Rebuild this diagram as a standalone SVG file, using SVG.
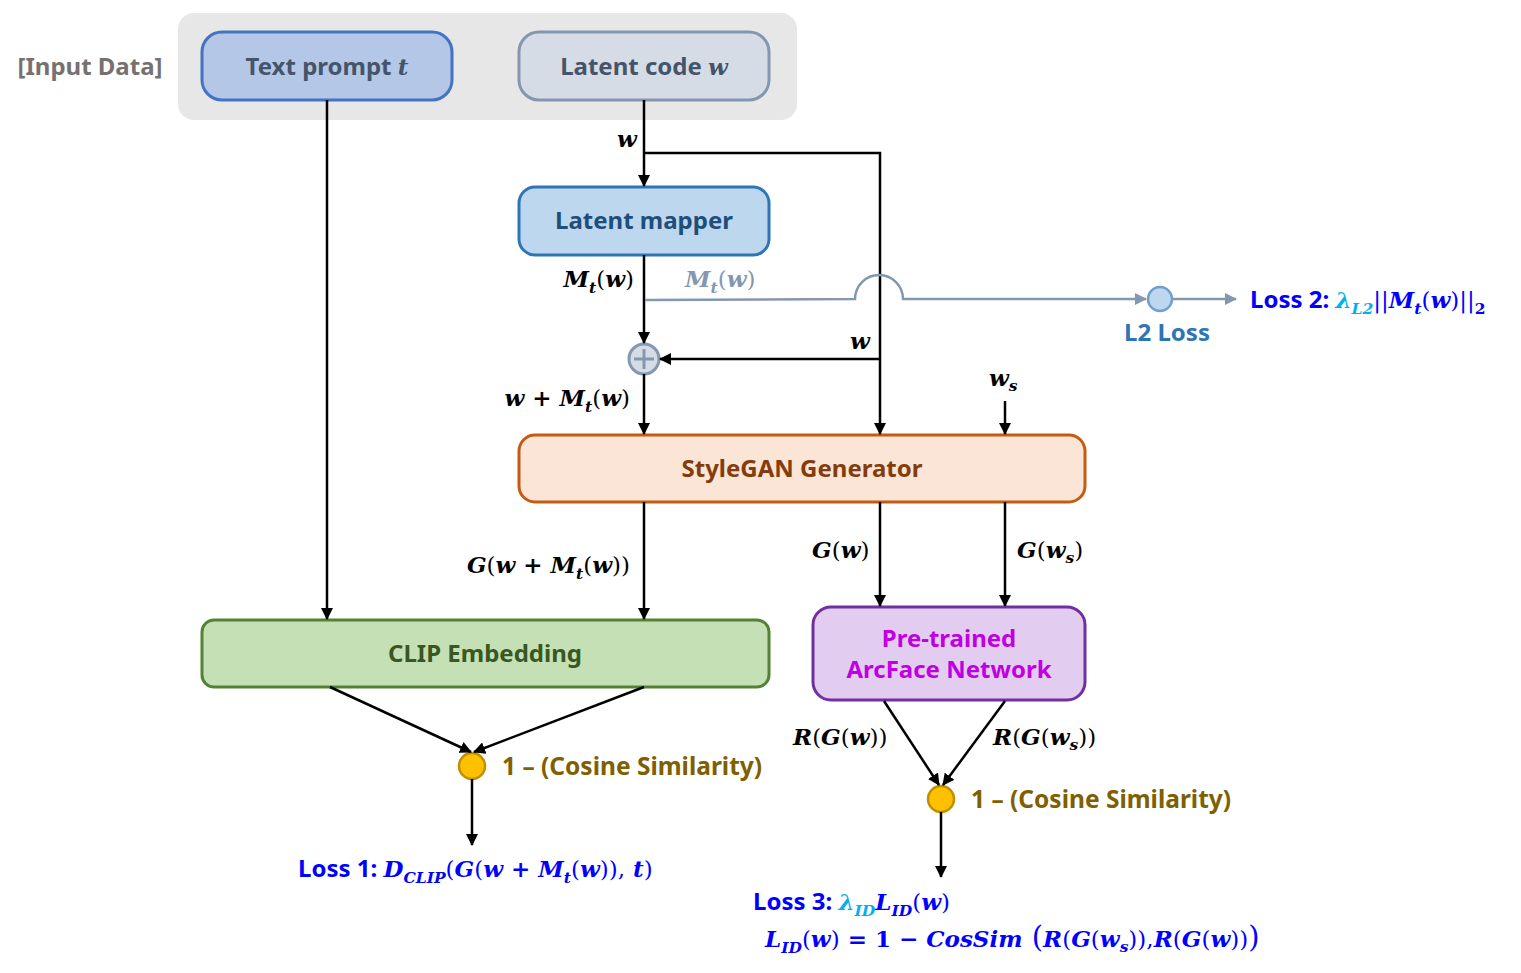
<svg xmlns="http://www.w3.org/2000/svg" width="1521" height="973" viewBox="0 0 1521 973">
<defs>
<marker id="ab" viewBox="0 0 12 12" refX="11" refY="6" markerWidth="12" markerHeight="12" markerUnits="userSpaceOnUse" orient="auto">
<path d="M0,0 L12,6 L0,12 Z" fill="#000"/>
</marker>
<marker id="ag" viewBox="0 0 12 12" refX="11" refY="6" markerWidth="12" markerHeight="12" markerUnits="userSpaceOnUse" orient="auto">
<path d="M0,0 L12,6 L0,12 Z" fill="#8497b0"/>
</marker>
</defs>
<style>
.t{font-family:"Noto Sans","Open Sans",sans-serif;font-weight:700}
.m{font-family:"DejaVu Serif","Liberation Serif",serif;font-style:italic;font-weight:700;font-size:23px}
.n{font-family:"DejaVu Serif","Liberation Serif",serif;font-style:normal;font-weight:400}
.b{font-family:"DejaVu Serif","Liberation Serif",serif;font-style:normal;font-weight:700}
.s{font-size:15.5px}
.c{stroke:#000;stroke-width:2.5;fill:none}
.box{stroke-width:3}
</style>
<rect width="1521" height="973" fill="#fff"/>

<g id="input-data">
<rect x="178" y="13" width="619" height="107" rx="16" fill="#e7e7e7"/>
<text class="t" x="90" y="75" font-size="24" fill="#767171" text-anchor="middle">[Input Data]</text>
</g>

<g id="text-prompt">
<rect class="box" x="202" y="32" width="250" height="68" rx="20" fill="#b4c7e7" stroke="#4472c4"/>
<text class="t" x="327" y="75" font-size="24" fill="#44546a" text-anchor="middle">Text prompt <tspan class="m" font-size="23">t</tspan></text>
</g>

<g id="latent-code">
<rect class="box" x="519" y="32" width="250" height="68" rx="20" fill="#d6dce5" stroke="#8497b0"/>
<text class="t" x="644" y="75" font-size="24" fill="#44546a" text-anchor="middle">Latent code <tspan class="m" font-size="23">w</tspan></text>
</g>

<g id="latent-mapper">
<rect class="box" x="519" y="187" width="250" height="68" rx="16" fill="#bdd7ee" stroke="#2e75b6"/>
<text class="t" x="644" y="229" font-size="24" fill="#1f4e79" text-anchor="middle">Latent mapper</text>
</g>

<g id="plus">
<circle cx="644" cy="359" r="15" fill="#d6dce5" stroke="#8497b0" stroke-width="3"/>
<path d="M634,359 H654 M644,349 V369" stroke="#8497b0" stroke-width="3"/>
</g>

<g id="l2-loss">
<circle cx="1160" cy="299" r="12" fill="#bdd7ee" stroke="#6f9fd0" stroke-width="2.5"/>
<text class="t" x="1167" y="341" font-size="24" fill="#2e75b6" text-anchor="middle">L2 Loss</text>
</g>

<g id="stylegan">
<rect class="box" x="519" y="435" width="566" height="67" rx="16" fill="#fbe5d6" stroke="#c55a11"/>
<text class="t" x="802" y="477" font-size="24" fill="#843c0c" text-anchor="middle">StyleGAN Generator</text>
</g>

<g id="clip">
<rect class="box" x="202" y="620" width="567" height="67" rx="12" fill="#c5e0b4" stroke="#548235"/>
<text class="t" x="485" y="662" font-size="24" fill="#385723" text-anchor="middle">CLIP Embedding</text>
</g>

<g id="arcface">
<rect class="box" x="813" y="607" width="272" height="93" rx="18" fill="#e2cdf0" stroke="#7030a0"/>
<text class="t" x="949" y="647" font-size="24" fill="#c000e0" text-anchor="middle">Pre-trained</text>
<text class="t" x="949" y="678" font-size="24" fill="#c000e0" text-anchor="middle">ArcFace Network</text>
</g>

<g id="cos1">
<circle cx="472" cy="766" r="13" fill="#ffc000" stroke="#bf9000" stroke-width="2.5"/>
<text class="t" x="502" y="775" font-size="24.5" fill="#7f6000">1 – (Cosine Similarity)</text>
</g>

<g id="cos2">
<circle cx="941" cy="799" r="13" fill="#ffc000" stroke="#bf9000" stroke-width="2.5"/>
<text class="t" x="971" y="808" font-size="24.5" fill="#7f6000">1 – (Cosine Similarity)</text>
</g>

<g id="connectors">
<path class="c" d="M327,100 V619" marker-end="url(#ab)"/>
<path class="c" d="M644,100 V186" marker-end="url(#ab)"/>
<path class="c" d="M644,153 H880 V434" marker-end="url(#ab)"/>
<path class="c" d="M644,255 V343" marker-end="url(#ab)"/>
<path class="c" d="M880,359 H660" marker-end="url(#ab)"/>
<path class="c" d="M644,374 V434" marker-end="url(#ab)"/>
<path class="c" d="M1005,401 V434" marker-end="url(#ab)"/>
<path class="c" d="M644,502 V619" marker-end="url(#ab)"/>
<path class="c" d="M880,502 V606" marker-end="url(#ab)"/>
<path class="c" d="M1005,502 V606" marker-end="url(#ab)"/>
<path class="c" d="M330,687 L471,752" marker-end="url(#ab)"/>
<path class="c" d="M644,687 L474,752" marker-end="url(#ab)"/>
<path class="c" d="M472,779 V845" marker-end="url(#ab)"/>
<path class="c" d="M884,701 L939,785" marker-end="url(#ab)"/>
<path class="c" d="M1005,701 L943,785" marker-end="url(#ab)"/>
<path class="c" d="M941,812 V877" marker-end="url(#ab)"/>
<path d="M645,300 L855,299 A24,24 0 0 1 903,299 L1146,299" stroke="#8497b0" stroke-width="2.5" fill="none" marker-end="url(#ag)"/>
<path d="M1172,299 H1236" stroke="#8497b0" stroke-width="2.5" fill="none" marker-end="url(#ag)"/>
</g>

<g id="labels">
<text class="m" x="627" y="147" text-anchor="middle" fill="#000">w</text>
<text class="m" x="634" y="287" text-anchor="end" fill="#000">M<tspan class="s" dy="6">t</tspan><tspan class="n" dy="-6">(</tspan>w<tspan class="n">)</tspan></text>
<text class="m" x="685" y="287" fill="#8497b0">M<tspan class="s" dy="6">t</tspan><tspan class="n" dy="-6">(</tspan>w<tspan class="n">)</tspan></text>
<text class="m" x="860" y="349" text-anchor="middle" fill="#000">w</text>
<text class="m" x="630" y="406" text-anchor="end" fill="#000">w <tspan class="b">+</tspan> M<tspan class="s" dy="6">t</tspan><tspan class="n" dy="-6">(</tspan>w<tspan class="n">)</tspan></text>
<text class="m" x="989" y="386" fill="#000">w<tspan class="s" dy="5">s</tspan></text>
<text class="m" x="630" y="573" text-anchor="end" fill="#000">G<tspan class="n">(</tspan>w <tspan class="b">+</tspan> M<tspan class="s" dy="6">t</tspan><tspan class="n" dy="-6">(</tspan>w<tspan class="n">))</tspan></text>
<text class="m" x="812" y="558" fill="#000">G<tspan class="n">(</tspan>w<tspan class="n">)</tspan></text>
<text class="m" x="1017" y="558" fill="#000">G<tspan class="n">(</tspan>w<tspan class="s" dy="5">s</tspan><tspan class="n" dy="-5">)</tspan></text>
<text class="m" x="793" y="745" fill="#000">R<tspan class="n">(</tspan>G<tspan class="n">(</tspan>w<tspan class="n">))</tspan></text>
<text class="m" x="993" y="745" fill="#000">R<tspan class="n">(</tspan>G<tspan class="n">(</tspan>w<tspan class="s" dy="5">s</tspan><tspan class="n" dy="-5">))</tspan></text>

<text x="298" y="877" fill="#0000ff"><tspan class="t" font-size="24">Loss 1: </tspan><tspan class="m">D<tspan class="s" dy="6">CLIP</tspan><tspan class="n" dy="-6">(</tspan>G<tspan class="n">(</tspan>w <tspan class="b">+</tspan> M<tspan class="s" dy="6">t</tspan><tspan class="n" dy="-6">(</tspan>w<tspan class="n">)),</tspan> t<tspan class="n">)</tspan></tspan></text>

<text x="1250" y="308" fill="#0000ff"><tspan class="t" font-size="24">Loss 2: </tspan><tspan class="m" fill="#00b0f0">λ<tspan class="s" dy="6">L2</tspan></tspan><tspan class="n" font-size="23" dy="-6">||</tspan><tspan class="m">M<tspan class="s" dy="6">t</tspan><tspan class="n" dy="-6">(</tspan>w<tspan class="n">)||</tspan><tspan class="b s" dy="6">2</tspan></tspan></text>

<text x="753" y="910" fill="#0000ff"><tspan class="t" font-size="24">Loss 3: </tspan><tspan class="m" fill="#00b0f0">λ<tspan class="s" dy="6">ID</tspan></tspan><tspan class="m" dy="-6">L<tspan class="s" dy="6">ID</tspan><tspan class="n" dy="-6">(</tspan>w<tspan class="n">)</tspan></tspan></text>

<text class="m" x="765" y="947" fill="#0000ff">L<tspan class="s" dy="6">ID</tspan><tspan class="n" dy="-6">(</tspan>w<tspan class="n">)</tspan><tspan class="b"> = 1 − </tspan>CosSim<tspan class="n" font-size="29"> (</tspan>R<tspan class="n">(</tspan>G<tspan class="n">(</tspan>w<tspan class="s" dy="5">s</tspan><tspan class="n" dy="-5">)),</tspan>R<tspan class="n">(</tspan>G<tspan class="n">(</tspan>w<tspan class="n">))</tspan><tspan class="n" font-size="29">)</tspan></text>
</g>
</svg>
